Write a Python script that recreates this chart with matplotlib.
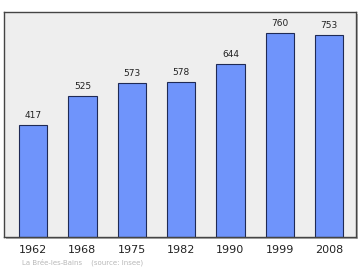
import matplotlib
matplotlib.use("Agg")
import matplotlib.pyplot as plt
from matplotlib.patches import Rectangle

years = ["1962", "1968", "1975", "1982", "1990", "1999", "2008"]
population = [417, 525, 573, 578, 644, 760, 753]

W, H = 360, 270
fig = plt.figure(figsize=(W / 100, H / 100), dpi=100)
fig.patch.set_facecolor("white")

left, right, top, bottom = 4, 355.7, 12, 236.7
ax = fig.add_axes([left / W, 1 - bottom / H, (right - left) / W, (bottom - top) / H])
ax.set_facecolor("#eeeeee")

# shadow
shadow = Rectangle(((left + 2) / W, 1 - (bottom + 2) / H), (right - left) / W, (bottom - top) / H,
                   transform=fig.transFigure, facecolor="#b0b0b0", edgecolor="none", zorder=-1)
fig.patches.append(shadow)

x = list(range(len(years)))
ax.bar(x, population, width=0.575, color="#6f94fb", edgecolor="#1f2a55", linewidth=0.8, zorder=2)
for xi, v in zip(x, population):
    ax.text(xi, v + 18, str(v), ha="center", va="bottom", fontsize=6.5, color="#222222")

ax.set_xlim(-0.59, 6.54)
ax.set_ylim(0, 838)
ax.set_yticks([])
ax.set_xticks(x)
ax.set_xticklabels(years, fontsize=8, color="#222222")
ax.tick_params(axis="x", length=0, pad=6)
for s in ax.spines.values():
    s.set_color("#444444")
    s.set_linewidth(1.0)

fig.text(22 / W, 1 - 262.5 / H, "La Brée-les-Bains    (source: Insee)", fontsize=5.0,
         color="#b8b8b8", ha="left", va="center")

fig.savefig("out.png", dpi=100)
